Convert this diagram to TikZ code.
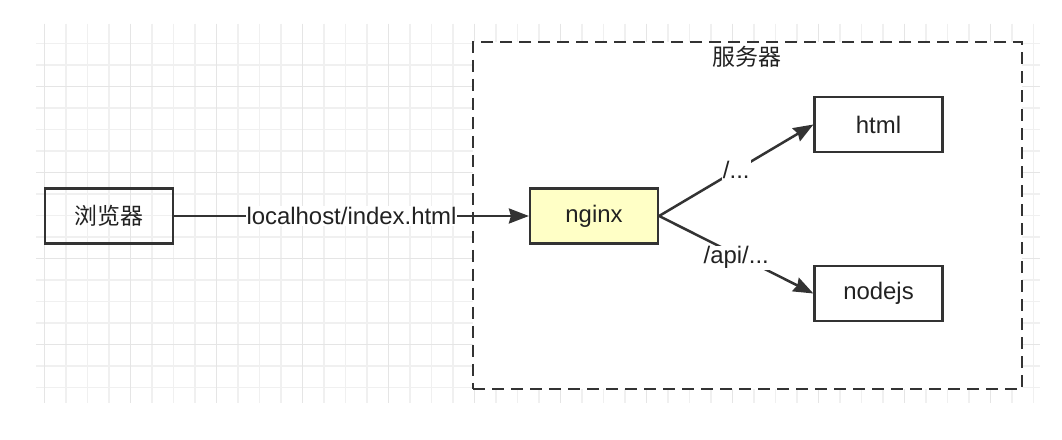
\documentclass[tikz,border=0pt]{standalone}
\usepackage{fontspec}
\setmainfont{Liberation Sans}
\newfontfamily\cjk{Noto Sans CJK SC}
\usetikzlibrary{arrows.meta}
\definecolor{gridminor}{HTML}{F0F0F0}
\definecolor{gridmajor}{HTML}{E5E5E5}
\definecolor{ink}{HTML}{333333}
\definecolor{textc}{HTML}{222222}
\definecolor{nginxfill}{HTML}{FFFFC6}
\begin{document}
\begin{tikzpicture}[x=1bp,y=-1bp,
  txt/.style={font=\fontsize{24}{28}\selectfont, text=textc},
  cjktxt/.style={font=\fontsize{23}{27}\selectfont\cjk, text=textc},
  box/.style={txt, draw=ink, line width=2.2bp, minimum width=128bp, minimum height=55bp, inner sep=0pt},
  conn/.style={draw=ink, line width=2.5bp, -{Stealth[length=20bp,width=15bp,inset=2bp]}},
  lbl/.style={txt, fill=white, inner sep=1bp},
  container/.style={draw=ink, fill=white, line width=2.5bp, dash pattern=on 12bp off 7bp, minimum width=549bp, minimum height=347bp, inner sep=0pt}
]
\useasboundingbox (0,0) rectangle (1062,440);
\fill[white] (0,0) rectangle (1062,440);
% grid
\foreach \i in {0,...,46} {
  \draw[gridminor, line width=1.5bp] ({44.5+21.5*\i},24) -- ({44.5+21.5*\i},403);
}
\foreach \j in {0,...,16} {
  \draw[gridminor, line width=1.5bp] (36,{43.3+21.5*\j}) -- (1040,{43.3+21.5*\j});
}
\foreach \i in {0,4,...,44} {
  \draw[gridmajor, line width=1.5bp] ({44.5+21.5*\i},24) -- ({44.5+21.5*\i},403);
}
\foreach \j in {2,6,10,14} {
  \draw[gridmajor, line width=1.5bp] (36,{43.3+21.5*\j}) -- (1040,{43.3+21.5*\j});
}
% container
\node[container] (server) at (747.5,215.5) {};
\node[cjktxt] (serverlbl) at (747,57) {服务器};
% nodes
\node[box, cjktxt] (browser) at (109,216) {浏览器};
\node[box, fill=nginxfill] (nginx) at (594,216) {nginx};
\node[box] (html) at (878.5,124.5) {html};
\node[box] (nodejs) at (878.5,293.5) {nodejs};
% connectors
\draw[conn] (browser) -- node[lbl] (l1) {localhost/index.html} (nginx);
\draw[conn] (nginx.east) -- node[lbl] (l2) {/...} (html.west);
\draw[conn] (nginx.east) -- node[lbl, yshift=-3bp] (l3) {/api/...} (nodejs.west);
\end{tikzpicture}
\end{document}
